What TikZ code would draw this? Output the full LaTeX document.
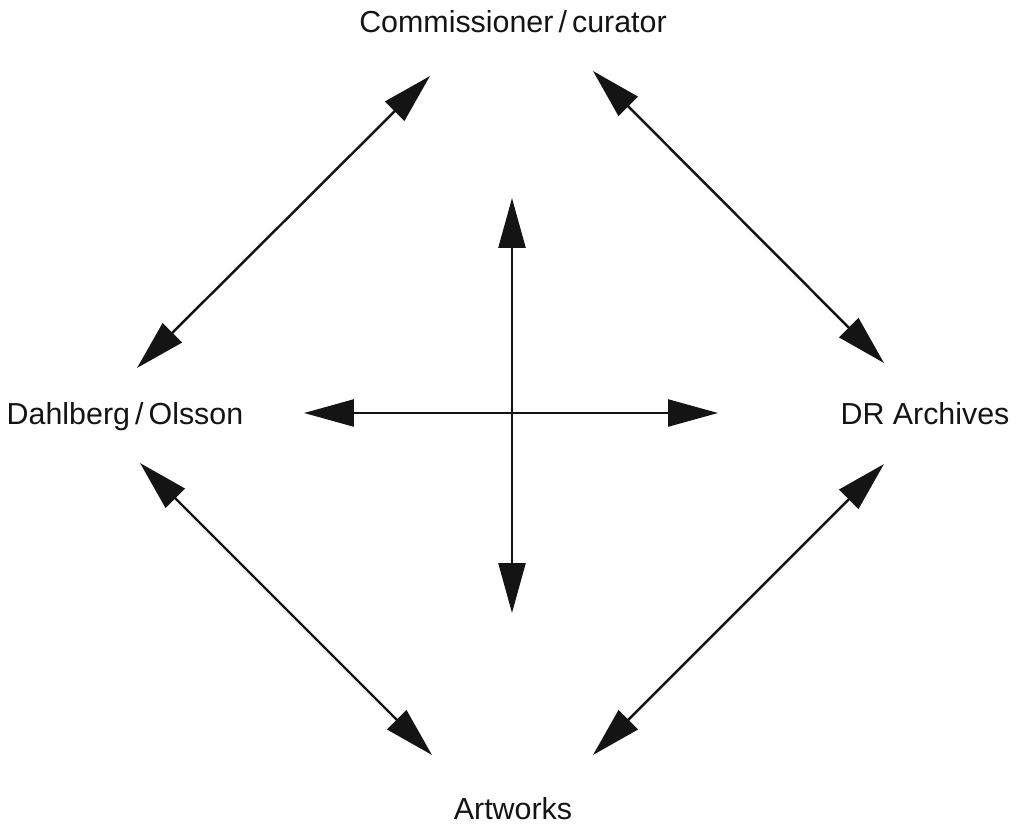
\documentclass[tikz,border=0pt]{standalone}
\usepackage{fontspec}
\setmainfont{Liberation Sans}
\usepackage{tikz}
\usetikzlibrary{arrows.meta}
\usepackage{xcolor}
\definecolor{lineblack}{RGB}{20,20,20}

\begin{document}
\begin{tikzpicture}[x=0.02cm, y=-0.02cm, font=\fontsize{17.3}{21}\selectfont,
  biarrow/.style={{Triangle[length=1.0cm, width=0.54cm]}-{Triangle[length=1.0cm, width=0.54cm]}, draw=lineblack, line width=1.4pt},
  party/.style={anchor=base, inner sep=0pt, text=lineblack}]
\useasboundingbox (0,0) rectangle (1028,829);

\node[party] (curator) at (513,32) {Commissioner\,/\,curator};
\node[party] (artists) at (125,424) {Dahlberg\,/\,Olsson};
\node[party] (archives) at (925,424) {DR Archives};
\node[party] (artworks) at (513,819) {Artworks};

% ends of the diamond arrows
\coordinate (tl1) at (430,76);  \coordinate (tl2) at (137,368);
\coordinate (tr1) at (593,71);  \coordinate (tr2) at (884,363);
\coordinate (bl1) at (140,463); \coordinate (bl2) at (432,755);
\coordinate (br1) at (884,464); \coordinate (br2) at (593,755);
\draw[biarrow] (tl1) -- (tl2);
\draw[biarrow] (tr1) -- (tr2);
\draw[biarrow] (bl1) -- (bl2);
\draw[biarrow] (br1) -- (br2);

% the cross in the middle
\coordinate (up) at (512,198);   \coordinate (down) at (512,613);
\coordinate (left) at (304,413); \coordinate (right) at (718,413);
\draw[biarrow] (up) -- (down);
\draw[biarrow] (left) -- (right);
\end{tikzpicture}
\end{document}
